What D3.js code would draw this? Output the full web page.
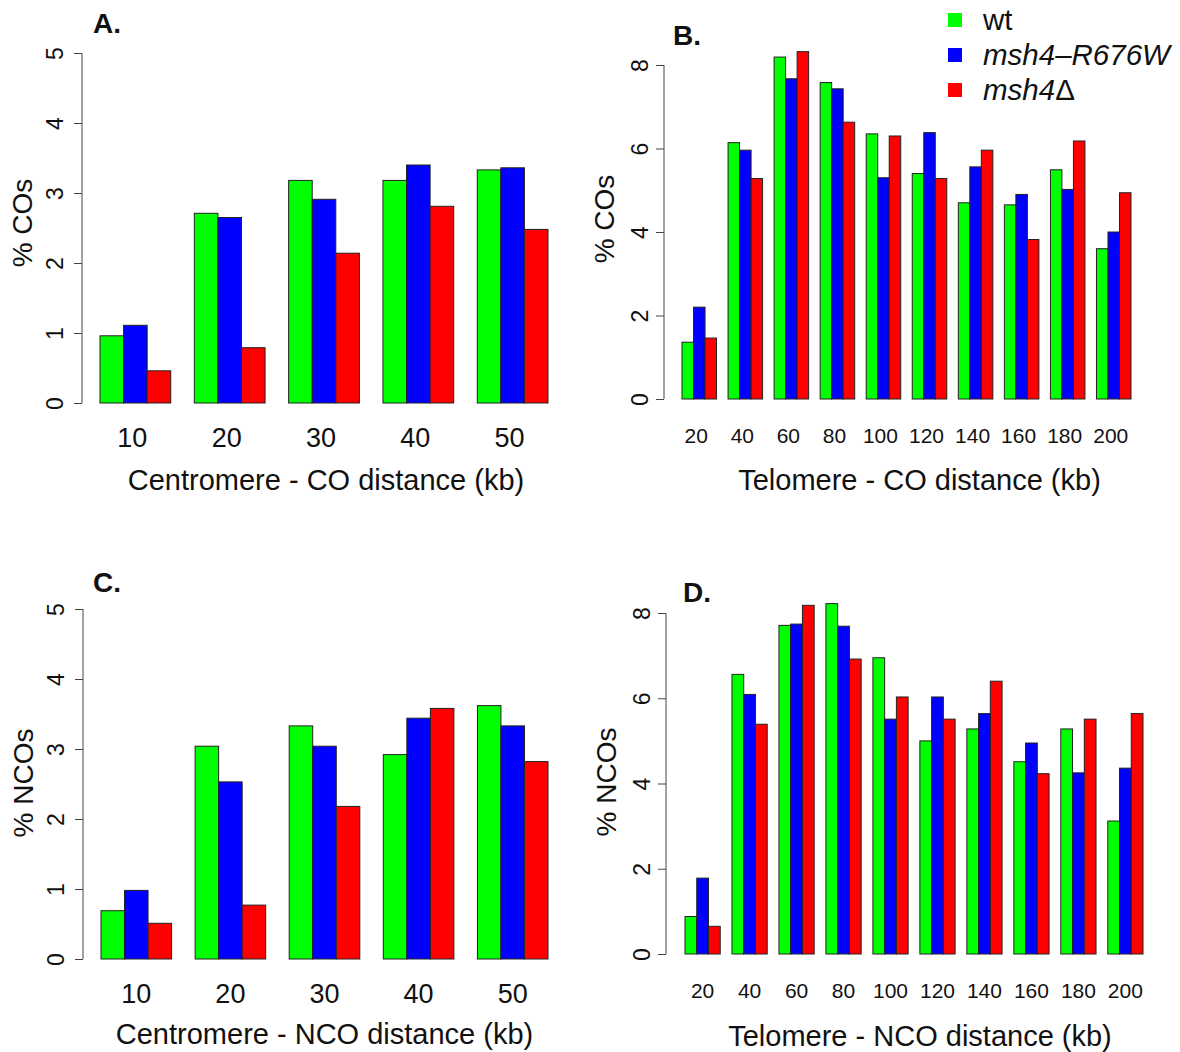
<!DOCTYPE html>
<html>
<head>
<meta charset="utf-8">
<script src="https://cdn.jsdelivr.net/npm/d3@7"></script>
<style>
  html, body { margin: 0; padding: 0; background: #fff; }
  svg { display: block; font-family: "Liberation Sans", Arial, Helvetica, sans-serif; }
</style>
</head>
<body>
<svg id="fig" width="1180" height="1052"></svg>
<script>
// Genotypes (legend order) and bar colours
const genotypes = ["wt", "msh4-R676W", "msh4Δ"];
const colors = ["#00ff00", "#0000ff", "#ff0000"];

// A. Centromere - CO distance
const centroBins = [10, 20, 30, 40, 50];
const coCentroWt    = [0.96, 2.71, 3.18, 3.18, 3.33];
const coCentroR676W = [1.11, 2.65, 2.91, 3.40, 3.36];
const coCentroDel   = [0.46, 0.79, 2.14, 2.81, 2.48];

// B. Telomere - CO distance
const teloBins = [20, 40, 60, 80, 100, 120, 140, 160, 180, 200];
const coTeloWt    = [1.36, 6.14, 8.19, 7.58, 6.35, 5.40, 4.70, 4.65, 5.49, 3.60];
const coTeloR676W = [2.20, 5.96, 7.67, 7.43, 5.30, 6.38, 5.56, 4.90, 5.02, 4.00];
const coTeloDel   = [1.46, 5.28, 8.32, 6.63, 6.30, 5.28, 5.96, 3.82, 6.18, 4.94];

// C. Centromere - NCO distance
const ncoCentroWt    = [0.69, 3.04, 3.33, 2.92, 3.62];
const ncoCentroR676W = [0.98, 2.53, 3.04, 3.44, 3.33];
const ncoCentroDel   = [0.51, 0.77, 2.18, 3.58, 2.82];

// D. Telomere - NCO distance
const ncoTeloWt    = [0.88, 6.56, 7.71, 8.22, 6.95, 5.00, 5.28, 4.51, 5.28, 3.12];
const ncoTeloR676W = [1.78, 6.09, 7.74, 7.69, 5.51, 6.03, 5.64, 4.95, 4.25, 4.36];
const ncoTeloDel   = [0.65, 5.39, 8.18, 6.92, 6.03, 5.51, 6.40, 4.23, 5.51, 5.64];

// Y tick values
const centroTicks = [0, 1, 2, 3, 4, 5];
const teloTicks = [0, 2, 4, 6, 8];

const panels = [
  { letter: "A.", bins: centroBins, series: [coCentroWt, coCentroR676W, coCentroDel],
    ticks: centroTicks, ylab: "% COs", xlab: "Centromere - CO distance (kb)",
    axisX: 82, barL: 100, barR: 548, y0: 403, yTop: 53, ytOff: -19,
    tickFont: 27, tickY: 447, tickDx: -3, xlabY: 490, xlabDx: 2, ylabY: 223,
    letterX: 93, letterY: 33 },
  { letter: "B.", bins: teloBins, series: [coTeloWt, coTeloR676W, coTeloDel],
    ticks: teloTicks, ylab: "% COs", xlab: "Telomere - CO distance (kb)",
    axisX: 664, barL: 682, barR: 1131, y0: 399, yTop: 65, ytOff: -16,
    tickFont: 21, tickY: 443, tickDx: -3, xlabY: 490, xlabDx: 13, ylabY: 219,
    letterX: 673, letterY: 45 },
  { letter: "C.", bins: centroBins, series: [ncoCentroWt, ncoCentroR676W, ncoCentroDel],
    ticks: centroTicks, ylab: "% NCOs", xlab: "Centromere - NCO distance (kb)",
    axisX: 83, barL: 101, barR: 548, y0: 959, yTop: 609, ytOff: -19,
    tickFont: 27, tickY: 1003, tickDx: 0, xlabY: 1044, xlabDx: 0, ylabY: 783,
    letterX: 93, letterY: 592 },
  { letter: "D.", bins: teloBins, series: [ncoTeloWt, ncoTeloR676W, ncoTeloDel],
    ticks: teloTicks, ylab: "% NCOs", xlab: "Telomere - NCO distance (kb)",
    axisX: 666, barL: 685, barR: 1143, y0: 954, yTop: 613, ytOff: -16,
    tickFont: 21, tickY: 998, tickDx: 0, xlabY: 1046, xlabDx: 6, ylabY: 782,
    letterX: 683, letterY: 602 }
];

const svg = d3.select("#fig");

panels.forEach(p => {
  const g = svg.append("g");

  // group positions: 3 bars per group, one bar-width gap between groups
  const x = d3.scaleBand()
    .domain(p.bins)
    .range([p.barL, p.barR])
    .paddingInner(0.25)
    .paddingOuter(0);
  const xs = d3.scaleBand()
    .domain(d3.range(genotypes.length))
    .range([0, x.bandwidth()]);
  const y = d3.scaleLinear()
    .domain([0, d3.max(p.ticks)])
    .range([p.y0, p.yTop]);

  // bars
  const groups = g.selectAll("g.grp")
    .data(p.bins)
    .join("g")
    .attr("class", "grp")
    .attr("transform", d => `translate(${x(d)},0)`);

  groups.selectAll("rect")
    .data((d, i) => p.series.map((s, k) => ({ k, v: s[i] })))
    .join("rect")
    .attr("x", d => xs(d.k))
    .attr("width", xs.bandwidth())
    .attr("y", d => y(d.v))
    .attr("height", d => y(0) - y(d.v))
    .attr("fill", d => colors[d.k])
    .attr("stroke", "#222")
    .attr("stroke-width", 1);

  // y axis with rotated tick labels
  const ax = g.append("g")
    .attr("transform", `translate(${p.axisX},0)`)
    .call(d3.axisLeft(y).tickValues(p.ticks).tickSize(8).tickSizeOuter(0).tickFormat(d3.format("d")));
  ax.select(".domain").attr("stroke", "#444").attr("stroke-width", 1)
    .attr("d", `M0,${y(d3.min(p.ticks))}V${y(d3.max(p.ticks))}`);
  ax.selectAll(".tick line").attr("stroke", "#444");
  ax.selectAll(".tick text")
    .attr("x", null).attr("dy", null)
    .attr("text-anchor", "middle")
    .attr("transform", `translate(${p.ytOff},0) rotate(-90)`)
    .attr("font-size", 23)
    .attr("font-family", "Liberation Sans, Arial, sans-serif")
    .attr("fill", "#111");

  // x category labels
  g.selectAll("text.xt")
    .data(p.bins)
    .join("text")
    .attr("class", "xt")
    .attr("x", d => x(d) + x.bandwidth() / 2 + p.tickDx)
    .attr("y", p.tickY)
    .attr("text-anchor", "middle")
    .attr("font-size", p.tickFont)
    .attr("fill", "#111")
    .text(d => d);

  // axis titles
  g.append("text")
    .attr("x", (p.barL + p.barR) / 2 + p.xlabDx)
    .attr("y", p.xlabY)
    .attr("text-anchor", "middle")
    .attr("font-size", 29)
    .attr("fill", "#111")
    .text(p.xlab);

  g.append("text")
    .attr("transform", `translate(${p.axisX - 50},${p.ylabY}) rotate(-90)`)
    .attr("text-anchor", "middle")
    .attr("font-size", 28)
    .attr("fill", "#111")
    .text(p.ylab);

  // panel letter
  g.append("text")
    .attr("x", p.letterX)
    .attr("y", p.letterY)
    .attr("font-size", 28)
    .attr("font-weight", "bold")
    .attr("fill", "#111")
    .text(p.letter);
});

// legend
const legend = svg.append("g").attr("transform", "translate(948,0)");
const rows = legend.selectAll("g")
  .data(genotypes)
  .join("g")
  .attr("transform", (d, i) => `translate(0,${20 + i * 35})`);
rows.append("rect")
  .attr("x", 0).attr("y", -7)
  .attr("width", 14).attr("height", 14)
  .attr("fill", (d, i) => colors[i]);
rows.each(function (d, i) {
  const t = d3.select(this).append("text")
    .attr("x", 35).attr("y", 10)
    .attr("font-size", 29.5)
    .attr("fill", "#111");
  if (i === 0) {
    t.text(d);
  } else if (i === 1) {
    t.attr("font-style", "italic").text("msh4–R676W");
  } else {
    t.append("tspan").attr("font-style", "italic").text("msh4");
    t.append("tspan").text("Δ");
  }
});
</script>
</body>
</html>
